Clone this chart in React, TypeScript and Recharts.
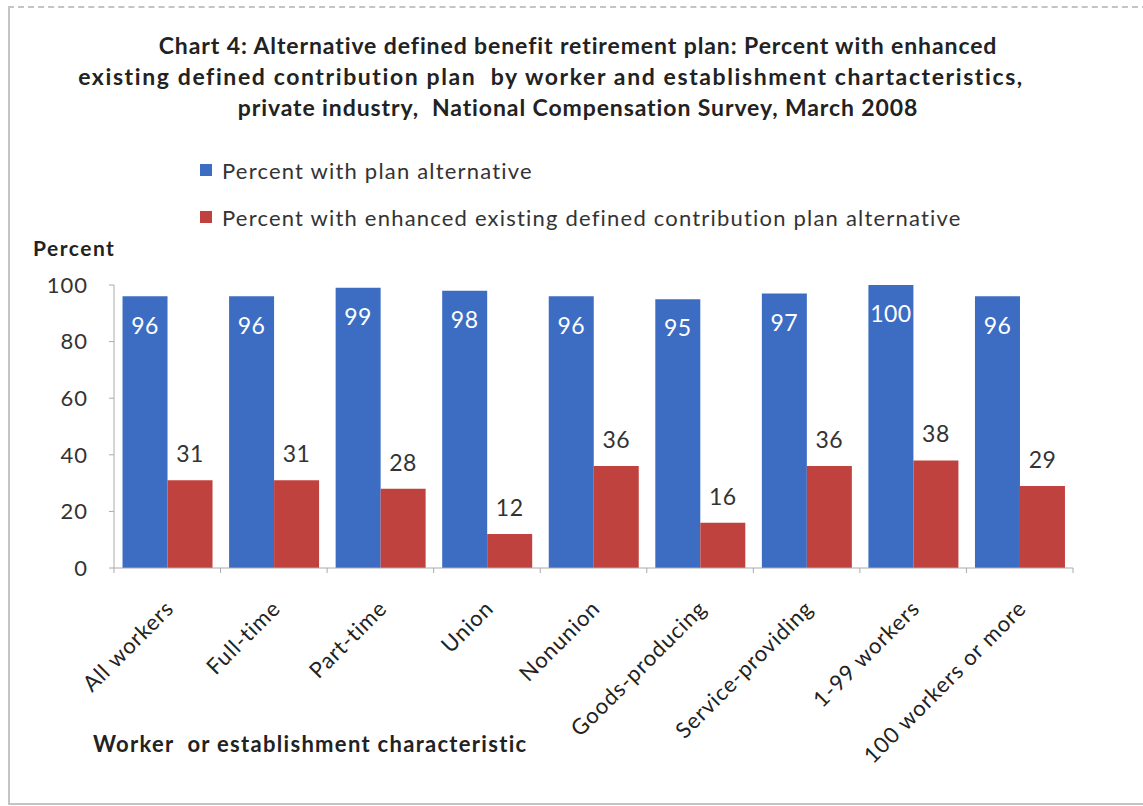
import React from "react";
import { BarChart, Bar, XAxis, YAxis, LabelList } from "recharts";

const categories = [
  "All workers",
  "Full-time",
  "Part-time",
  "Union",
  "Nonunion",
  "Goods-producing",
  "Service-providing",
  "1-99 workers",
  "100 workers or more",
];
const planAlternative = [96, 96, 99, 98, 96, 95, 97, 100, 96];
const enhancedDC = [31, 31, 28, 12, 36, 16, 36, 38, 29];
const yTicks = [0, 20, 40, 60, 80, 100];
const seriesNames = [
  "Percent with plan alternative",
  "Percent with enhanced existing defined contribution plan alternative",
];
const titleLines = [
  "Chart 4: Alternative defined benefit retirement plan: Percent with enhanced",
  "existing defined contribution plan  by worker and establishment chartacteristics,",
  "private industry,  National Compensation Survey, March 2008",
];

const data = categories.map((c, i) => ({
  name: c,
  plan: planAlternative[i],
  enhanced: enhancedDC[i],
}));

const FONT = "Lato, 'Open Sans', sans-serif";
const BLUE = "#3C6DC3";
const RED = "#C0423F";

const XTick = (props: any) => {
  const { x, y, payload, index, width, visibleTicksCount } = props;
  const half =
    payload && payload.offset
      ? payload.offset
      : width && visibleTicksCount
      ? width / visibleTicksCount / 2
      : 0;
  const ty = y - 8;
  return (
    <g>
      {half > 0 && index === 0 && (
        <line x1={x - half} x2={x - half} y1={ty} y2={ty + 5} stroke="#aaa" />
      )}
      {half > 0 && (
        <line x1={x + half} x2={x + half} y1={ty} y2={ty + 5} stroke="#aaa" />
      )}
      <g transform={`translate(${x + 4},${y + 30})`}>
        <text
          transform="rotate(-45)"
          textAnchor="end"
          dominantBaseline="middle"
          fontFamily={FONT}
          fontSize={22}
          letterSpacing={0.9}
          fill="#222"
        >
          {payload.value}
        </text>
      </g>
    </g>
  );
};

export default function App() {
  return (
    <div
      style={{
        position: "absolute",
        left: 0,
        top: 0,
        width: 1143,
        height: 806,
        background: "#fff",
        overflow: "hidden",
        fontFamily: FONT,
      }}
    >
      <div
        style={{
          position: "absolute",
          left: 8,
          top: 6,
          width: 1150,
          height: 799,
          border: "2px solid #c4c4c4",
          borderTopStyle: "dashed",
          boxSizing: "border-box",
        }}
      />
      <div
        style={{
          position: "absolute",
          left: 0,
          width: 1156,
          top: 30,
          textAlign: "center",
          fontWeight: 700,
          fontSize: 23,
          letterSpacing: 0.9,
          lineHeight: "31px",
          color: "#222",
          whiteSpace: "pre",
        }}
      >
        {titleLines.map((l, i) => (
          <div
            key={i}
            style={i === 1 ? { letterSpacing: 1.6, paddingRight: 54 } : undefined}
          >
            {l}
          </div>
        ))}
      </div>
      {seriesNames.map((n, i) => (
        <div
          key={n}
          style={{
            position: "absolute",
            left: 200,
            top: 156 + i * 47,
            height: 28,
            display: "flex",
            alignItems: "center",
            fontSize: 22,
            letterSpacing: 1.2,
            color: "#333",
            whiteSpace: "nowrap",
          }}
        >
          <span
            style={{
              display: "inline-block",
              width: 12,
              height: 12,
              background: i === 0 ? BLUE : RED,
              marginRight: 10,
            }}
          />
          {n}
        </div>
      ))}
      <div
        style={{
          position: "absolute",
          left: 33,
          top: 235,
          fontSize: 21,
          letterSpacing: 1.5,
          fontWeight: 700,
          color: "#222",
        }}
      >
        Percent
      </div>
      <div
        style={{
          position: "absolute",
          left: 93,
          top: 730,
          fontSize: 22,
          letterSpacing: 1.3,
          fontWeight: 700,
          color: "#222",
          whiteSpace: "pre",
        }}
      >
        {"Worker  or establishment characteristic"}
      </div>
      <div style={{ position: "absolute", left: 0, top: 0 }}>
        <BarChart
          width={1143}
          height={806}
          data={data}
          margin={{ top: 285, right: 70, bottom: 0, left: 0 }}
          barCategoryGap="8%"
          barGap={0}
        >
          <YAxis
            width={114}
            domain={[0, 100]}
            ticks={yTicks}
            interval={0}
            axisLine={{ stroke: "#aaa" }}
            tickLine={{ stroke: "#aaa" }}
            tickSize={5}
            tickMargin={21}
            tick={{ fontFamily: FONT, fontSize: 22, fill: "#333", letterSpacing: 1 }}
          />
          <XAxis
            dataKey="name"
            height={238}
            interval={0}
            axisLine={{ stroke: "#aaa" }}
            tickLine={false}
            tick={<XTick />}
          />
          <Bar dataKey="plan" fill={BLUE} isAnimationActive={false}>
            <LabelList
              dataKey="plan"
              position="insideTop"
              offset={21}
              fill="#fff"
              fontFamily={FONT}
              fontSize={23}
              letterSpacing={0.5}
            />
          </Bar>
          <Bar dataKey="enhanced" fill={RED} isAnimationActive={false}>
            <LabelList
              dataKey="enhanced"
              position="top"
              offset={18}
              fill="#333"
              fontFamily={FONT}
              fontSize={23}
              letterSpacing={0.5}
            />
          </Bar>
        </BarChart>
      </div>
    </div>
  );
}
